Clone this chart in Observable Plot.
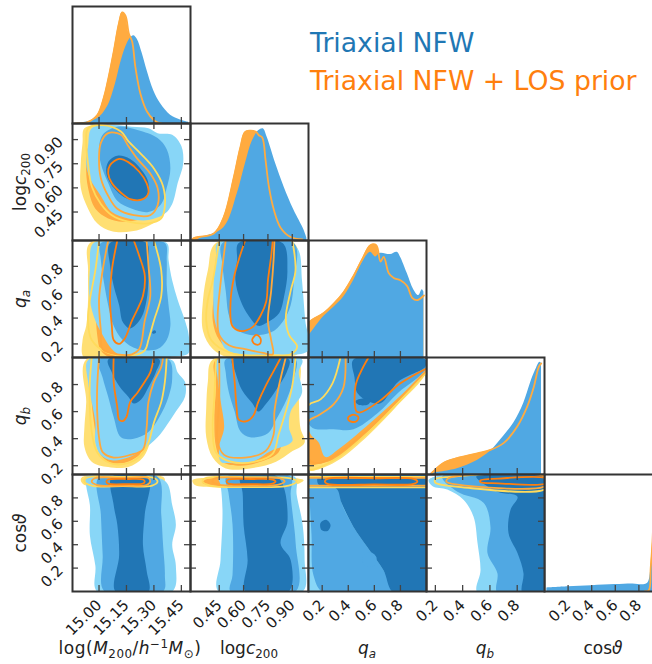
<!DOCTYPE html>
<html><head><meta charset="utf-8">
<script src="https://cdn.jsdelivr.net/npm/d3@7"></script>
<script src="https://cdn.jsdelivr.net/npm/@observablehq/plot@0.6"></script>
<style>
html,body{margin:0;padding:0;background:#fff;}
#fig{position:relative;width:652px;height:664px;overflow:hidden;font-family:"DejaVu Sans",sans-serif;color:#222;}
.cell{position:absolute;width:118px;height:117px;}
.cell svg{overflow:visible;background:transparent;}
.ttl{position:absolute;font-size:17px;white-space:nowrap;line-height:1.164;}
.ttl sub{font-size:70%;vertical-align:-0.3em;line-height:0;}
.ttl sup{font-size:70%;vertical-align:0.5em;line-height:0;}
.bt{width:240px;text-align:center;}
.lt{transform:translate(-50%,-50%) rotate(-90deg);}
.wide{letter-spacing:0.5px;}
.leg{position:absolute;font-size:26.7px;white-space:nowrap;line-height:1.164;}
</style></head><body><div id="fig"></div>
<script>
// ---------- axes: tick values and tick labels ----------
const logMTicks = [15.00, 15.15, 15.30, 15.45];
const logMLabels = ["15.00", "15.15", "15.30", "15.45"];
const logcTicks = [0.45, 0.60, 0.75, 0.90];
const logcLabels = ["0.45", "0.60", "0.75", "0.90"];
const qaTicks = [0.2, 0.4, 0.6, 0.8];
const qaLabels = ["0.2", "0.4", "0.6", "0.8"];
const qbTicks = [0.2, 0.4, 0.6, 0.8];
const qbLabels = ["0.2", "0.4", "0.6", "0.8"];
const cosTicks = [0.2, 0.4, 0.6, 0.8];
const cosLabels = ["0.2", "0.4", "0.6", "0.8"];
const logMDomain = [14.855, 15.5];
const logcDomain = [0.273, 1.0];
const qaDomain = [0.095, 1.0];
const qbDomain = [0.135, 1.0];
const cosDomain = [0, 1];

const legendNames = ["Triaxial NFW", "Triaxial NFW + LOS prior"];

// ---------- 1D marginals [value, density] ----------
const H0_blue = [[14.88,0],[14.99,0.04],[15.045,0.14],[15.09,0.34],[15.117,0.51],[15.145,0.65],[15.172,0.73],[15.19,0.75],[15.209,0.72],[15.236,0.60],[15.263,0.45],[15.299,0.28],[15.336,0.17],[15.391,0.07],[15.445,0.03],[15.49,0.01]];
const H0_orange = [[14.87,0],[14.935,0.01],[14.99,0.07],[15.026,0.22],[15.053,0.40],[15.081,0.62],[15.108,0.85],[15.127,0.95],[15.145,0.92],[15.163,0.77],[15.181,0.70],[15.199,0.48],[15.227,0.25],[15.263,0.10],[15.299,0.03],[15.318,0.01],[15.34,0]];
const H1_blue = [[0.31,0],[0.335,0.02],[0.478,0.11],[0.561,0.40],[0.612,0.66],[0.654,0.85],[0.694,0.94],[0.721,0.955],[0.746,0.88],[0.797,0.66],[0.849,0.46],[0.91,0.26],[0.972,0.09],[0.99,0.02]];
const H1_orange = [[0.28,0],[0.292,0.02],[0.417,0.06],[0.478,0.2],[0.54,0.54],[0.581,0.80],[0.612,0.93],[0.674,0.93],[0.694,0.90],[0.715,0.88],[0.736,0.68],[0.756,0.46],[0.787,0.26],[0.828,0.11],[0.89,0.03],[0.962,0.01]];
const H2_blue = [[0.095,0.18],[0.212,0.35],[0.289,0.43],[0.366,0.52],[0.442,0.66],[0.507,0.81],[0.57,0.90],[0.609,0.86],[0.647,0.89],[0.724,0.88],[0.775,0.90],[0.80,0.86],[0.852,0.72],[0.902,0.58],[0.94,0.53],[0.967,0.58],[0.98,0.56]];
const H2_orange = [[0.095,0.28],[0.11,0.31],[0.212,0.38],[0.289,0.46],[0.366,0.56],[0.442,0.70],[0.507,0.84],[0.57,0.96],[0.615,0.96],[0.647,0.82],[0.672,0.86],[0.711,0.72],[0.749,0.68],[0.80,0.66],[0.852,0.61],[0.89,0.51],[0.929,0.49],[0.98,0.53]];
const H3_blue = [[0.164,0.01],[0.36,0.05],[0.507,0.12],[0.604,0.20],[0.702,0.33],[0.775,0.44],[0.848,0.61],[0.897,0.78],[0.934,0.89],[0.966,0.96],[0.978,0.95]];
const H3_orange = [[0.164,0.0],[0.189,0.03],[0.262,0.10],[0.36,0.14],[0.507,0.18],[0.604,0.21],[0.702,0.27],[0.80,0.41],[0.873,0.58],[0.922,0.75],[0.958,0.92],[0.976,0.95]];
const H4_blue = [[0.02,0.03],[0.2,0.04],[0.4,0.05],[0.6,0.06],[0.75,0.065],[0.85,0.06],[0.88,0.08],[0.90,0.18],[0.915,0.35],[0.93,0.6],[0.95,0.8],[0.97,0.7],[1.0,0.4]];
const H4_orange = [[0.85,0],[0.884,0.01],[0.90,0.2],[0.915,0.42],[0.93,0.8],[0.95,1.0],[0.97,0.9],[0.99,0.5],[1.0,0.3]];

// ---------- 2D contours [x, y] ----------
// A: logM vs logc
const A_lb = [[14.96,0.97],[15.07,0.99],[15.18,0.98],[15.27,0.97],[15.32,0.94],[15.40,0.93],[15.45,0.86],[15.46,0.75],[15.43,0.63],[15.40,0.50],[15.36,0.44],[15.27,0.40],[15.16,0.41],[15.07,0.45],[15.01,0.55],[14.95,0.66],[14.93,0.75],[14.94,0.86]];
const A_mb = [[15.02,0.93],[15.10,0.98],[15.21,0.96],[15.32,0.91],[15.37,0.84],[15.39,0.72],[15.37,0.60],[15.34,0.50],[15.27,0.45],[15.18,0.47],[15.10,0.52],[15.05,0.63],[15.01,0.75],[15.00,0.84]];
const A_db = [[15.05,0.76],[15.10,0.80],[15.17,0.78],[15.24,0.70],[15.27,0.63],[15.26,0.55],[15.21,0.52],[15.14,0.54],[15.08,0.60],[15.04,0.69]];
const A_yf = [[14.92,0.97],[15.02,0.99],[15.13,0.95],[15.24,0.84],[15.32,0.72],[15.36,0.57],[15.35,0.43],[15.28,0.37],[15.18,0.33],[15.07,0.33],[14.99,0.38],[14.94,0.47],[14.90,0.60],[14.90,0.75],[14.91,0.88]];
const A_of = [[14.95,0.88],[15.01,0.94],[15.10,0.91],[15.21,0.81],[15.29,0.69],[15.32,0.55],[15.30,0.45],[15.24,0.41],[15.13,0.39],[15.05,0.41],[14.98,0.47],[14.94,0.60],[14.93,0.75]];
const A_yl = [[14.94,0.97],[15.02,0.99],[15.12,0.95],[15.16,0.89],[15.23,0.81],[15.30,0.72],[15.35,0.61],[15.36,0.49],[15.34,0.41],[15.27,0.38],[15.16,0.39],[15.07,0.43],[15.01,0.50],[14.96,0.61],[14.94,0.75],[14.93,0.88]];
const A_ol = [[15.01,0.88],[15.05,0.94],[15.12,0.93],[15.16,0.86],[15.21,0.78],[15.28,0.69],[15.32,0.60],[15.32,0.49],[15.28,0.43],[15.19,0.43],[15.10,0.47],[15.05,0.55],[15.01,0.66],[15.00,0.78]];
const A_dl = [[15.06,0.74],[15.11,0.78],[15.16,0.76],[15.22,0.70],[15.26,0.63],[15.27,0.57],[15.24,0.53],[15.17,0.53],[15.12,0.57],[15.07,0.63],[15.05,0.69]];
// B: logM vs qa
const B_lb = [[14.97,0.98],[15.13,0.98],[15.37,0.98],[15.38,0.85],[15.40,0.69],[15.43,0.54],[15.47,0.38],[15.49,0.27],[15.49,0.13],[15.40,0.10],[15.24,0.10],[15.13,0.10],[15.07,0.16],[15.02,0.27],[14.98,0.38],[14.95,0.54],[14.95,0.77]];
const B_mb = [[15.01,0.98],[15.18,0.98],[15.36,0.98],[15.37,0.85],[15.37,0.65],[15.38,0.50],[15.39,0.34],[15.37,0.23],[15.32,0.16],[15.21,0.16],[15.13,0.23],[15.08,0.34],[15.05,0.50],[15.03,0.65],[15.01,0.85]];
const B_db = [[15.06,0.98],[15.26,0.98],[15.27,0.85],[15.27,0.69],[15.26,0.54],[15.23,0.40],[15.17,0.32],[15.13,0.37],[15.11,0.50],[15.08,0.65],[15.06,0.81]];
const B_dot = [[15.295,0.30],[15.305,0.305],[15.312,0.29],[15.30,0.278],[15.29,0.285]];
const B_yf = [[14.95,0.98],[15.35,0.98],[15.38,0.77],[15.39,0.54],[15.38,0.30],[15.36,0.15],[15.29,0.09],[14.92,0.09],[14.91,0.23],[14.93,0.34],[14.94,0.54],[14.94,0.77]];
const B_of = [[14.98,0.98],[15.35,0.98],[15.36,0.69],[15.36,0.38],[15.32,0.19],[15.24,0.09],[15.07,0.09],[15.01,0.15],[14.99,0.27],[14.98,0.46],[14.96,0.69]];
const B_yl = [[15.00,1.0],[14.98,0.77],[14.95,0.54],[14.94,0.38],[14.96,0.23],[15.05,0.13],[15.18,0.11],[15.25,0.15],[15.27,0.23],[15.30,0.38],[15.34,0.57],[15.34,0.77],[15.30,1.0]];
const B_ol = [[15.05,1.0],[15.02,0.77],[15.00,0.54],[15.01,0.30],[15.02,0.16],[15.10,0.12],[15.18,0.12],[15.22,0.16],[15.25,0.38],[15.28,0.57],[15.27,0.81],[15.26,1.0]];
const B_dl = [[15.10,1.0],[15.07,0.77],[15.06,0.54],[15.07,0.34],[15.08,0.23],[15.11,0.20],[15.14,0.24],[15.18,0.38],[15.24,0.57],[15.25,0.73],[15.22,0.88],[15.19,1.0]];
// C: logM vs qb
const C_lb = [[14.94,0.98],[15.18,0.985],[15.40,0.98],[15.43,0.89],[15.47,0.82],[15.47,0.71],[15.42,0.60],[15.37,0.50],[15.32,0.41],[15.24,0.32],[15.16,0.26],[15.07,0.24],[15.01,0.28],[14.98,0.37],[14.98,0.52],[14.96,0.67],[14.94,0.82]];
const C_mb = [[15.00,0.985],[15.38,0.985],[15.40,0.85],[15.38,0.71],[15.33,0.56],[15.27,0.45],[15.19,0.40],[15.12,0.41],[15.08,0.56],[15.05,0.71],[15.02,0.85]];
const C_db = [[15.05,0.985],[15.33,0.985],[15.31,0.89],[15.27,0.78],[15.23,0.69],[15.19,0.66],[15.16,0.71],[15.11,0.79],[15.07,0.89]];
const C_yf = [[14.93,0.985],[15.38,0.985],[15.38,0.78],[15.34,0.60],[15.29,0.41],[15.24,0.26],[15.16,0.19],[15.05,0.19],[14.96,0.23],[14.92,0.34],[14.92,0.48],[14.93,0.67]];
const C_of = [[14.98,0.985],[15.36,0.985],[15.35,0.78],[15.31,0.60],[15.27,0.41],[15.22,0.28],[15.13,0.22],[15.05,0.23],[15.00,0.30],[14.98,0.45],[14.96,0.67],[14.96,0.85]];
const C_yl = [[14.96,1.0],[14.95,0.82],[14.95,0.63],[14.96,0.45],[14.99,0.30],[15.06,0.22],[15.16,0.22],[15.23,0.28],[15.27,0.37],[15.30,0.52],[15.34,0.67],[15.36,0.82],[15.37,1.0]];
const C_ol = [[15.00,1.0],[14.99,0.78],[14.99,0.60],[15.00,0.41],[15.02,0.30],[15.08,0.26],[15.17,0.28],[15.24,0.32],[15.26,0.48],[15.27,0.67],[15.30,0.82],[15.34,0.93],[15.35,1.0]];
const C_dl = [[15.08,1.0],[15.08,0.82],[15.10,0.63],[15.11,0.54],[15.13,0.53],[15.15,0.56],[15.17,0.67],[15.21,0.74],[15.25,0.82],[15.28,0.89],[15.30,1.0]];
// D: logM vs cos
const D_lb = [[14.93,0.98],[15.07,0.98],[15.29,0.98],[15.37,0.93],[15.40,0.74],[15.42,0.57],[15.40,0.40],[15.42,0.22],[15.40,0.0],[14.99,0.0],[14.98,0.22],[14.95,0.48],[14.95,0.74],[14.93,0.90]];
const D_mb = [[15.00,0.98],[15.32,0.98],[15.34,0.66],[15.35,0.40],[15.36,0.14],[15.35,0.0],[15.03,0.0],[15.02,0.31],[15.01,0.66]];
const D_db = [[15.07,0.98],[15.27,0.98],[15.25,0.66],[15.24,0.40],[15.26,0.18],[15.27,0.0],[15.09,0.0],[15.11,0.31],[15.10,0.57],[15.08,0.74]];
const D_yf = [[14.91,0.98],[15.13,0.99],[15.35,0.98],[15.36,0.95],[15.34,0.905],[15.18,0.90],[15.02,0.90],[14.92,0.91],[14.90,0.95]];
const D_of = [[14.94,0.97],[15.32,0.97],[15.33,0.94],[15.29,0.905],[14.96,0.905],[14.94,0.94]];
const D_yl = [[14.93,0.97],[15.13,0.98],[15.30,0.97],[15.32,0.94],[15.29,0.905],[15.13,0.90],[14.96,0.905],[14.92,0.94]];
const D_ol = [[14.98,0.97],[15.13,0.97],[15.27,0.97],[15.28,0.94],[15.26,0.91],[15.13,0.905],[14.99,0.91],[14.96,0.94]];
const D_dl = [[15.05,0.957],[15.16,0.961],[15.24,0.957],[15.25,0.94],[15.24,0.922],[15.16,0.918],[15.05,0.922],[15.04,0.94]];
// E: logc vs qa
const E_lb = [[0.44,0.98],[0.89,0.98],[0.94,0.92],[0.96,0.69],[0.98,0.38],[1.0,0.15],[0.77,0.12],[0.58,0.12],[0.49,0.16],[0.45,0.27],[0.42,0.40],[0.415,0.65],[0.43,0.88]];
const E_mb = [[0.47,0.98],[0.91,0.98],[0.91,0.69],[0.89,0.50],[0.84,0.37],[0.77,0.29],[0.64,0.27],[0.55,0.32],[0.51,0.42],[0.49,0.61],[0.47,0.81]];
const E_db = [[0.57,0.98],[0.84,0.98],[0.87,0.77],[0.85,0.57],[0.82,0.44],[0.75,0.37],[0.69,0.34],[0.63,0.42],[0.58,0.54],[0.55,0.69],[0.56,0.85]];
const E_yf = [[0.43,0.98],[0.91,0.98],[0.94,0.77],[0.91,0.54],[0.92,0.23],[0.94,0.13],[0.77,0.09],[0.52,0.09],[0.41,0.16],[0.35,0.30],[0.35,0.54],[0.38,0.77]];
const E_of = [[0.46,0.98],[0.79,0.98],[0.79,0.69],[0.78,0.38],[0.79,0.13],[0.64,0.12],[0.52,0.15],[0.45,0.23],[0.41,0.38],[0.43,0.69]];
const E_yl = [[0.45,1.0],[0.41,0.69],[0.38,0.54],[0.37,0.38],[0.40,0.23],[0.52,0.13],[0.705,0.11],[0.89,0.12],[0.93,0.18],[0.88,0.27],[0.86,0.40],[0.89,0.61],[0.92,0.77],[0.90,1.0]];
const E_ol = [[0.49,1.0],[0.46,0.69],[0.44,0.40],[0.45,0.27],[0.51,0.19],[0.61,0.16],[0.72,0.13],[0.78,0.12],[0.77,0.23],[0.75,0.38],[0.77,0.61],[0.785,0.85],[0.79,1.0]];
const E_dl = [[0.61,1.0],[0.57,0.85],[0.54,0.71],[0.52,0.53],[0.53,0.34],[0.58,0.30],[0.655,0.33],[0.705,0.42],[0.74,0.53],[0.75,0.69],[0.77,0.88],[0.78,1.0]];
const E_isl = [[0.655,0.24],[0.68,0.27],[0.705,0.24],[0.70,0.20],[0.674,0.196],[0.655,0.22]];
// F: logc vs qb
const F_lb = [[0.44,0.985],[0.96,0.985],[0.94,0.89],[0.96,0.74],[0.89,0.60],[0.88,0.48],[0.90,0.38],[0.77,0.31],[0.655,0.23],[0.52,0.22],[0.46,0.23],[0.45,0.34],[0.48,0.48],[0.46,0.67],[0.44,0.85]];
const F_mb = [[0.49,0.985],[0.92,0.985],[0.91,0.85],[0.865,0.69],[0.80,0.54],[0.75,0.44],[0.64,0.41],[0.58,0.455],[0.545,0.60],[0.51,0.74],[0.49,0.89]];
const F_db = [[0.53,0.985],[0.88,0.985],[0.865,0.89],[0.80,0.76],[0.74,0.66],[0.69,0.60],[0.655,0.66],[0.59,0.76],[0.55,0.89]];
const F_yf = [[0.41,0.985],[0.93,0.985],[0.94,0.71],[0.95,0.48],[0.976,0.37],[0.89,0.30],[0.80,0.23],[0.64,0.18],[0.49,0.18],[0.41,0.26],[0.37,0.41],[0.37,0.63],[0.38,0.82]];
const F_of = [[0.43,0.985],[0.89,0.985],[0.89,0.71],[0.85,0.48],[0.816,0.30],[0.705,0.23],[0.58,0.20],[0.47,0.23],[0.43,0.34],[0.42,0.56],[0.43,0.78]];
const F_yl = [[0.43,1.0],[0.42,0.71],[0.41,0.48],[0.43,0.30],[0.52,0.23],[0.67,0.23],[0.78,0.29],[0.816,0.43],[0.86,0.60],[0.90,0.79],[0.92,1.0]];
const F_ol = [[0.45,1.0],[0.45,0.68],[0.44,0.38],[0.48,0.28],[0.61,0.26],[0.736,0.31],[0.785,0.43],[0.79,0.60],[0.816,0.78],[0.86,1.0]];
const F_dl = [[0.53,1.0],[0.545,0.82],[0.557,0.63],[0.57,0.54],[0.62,0.53],[0.66,0.57],[0.69,0.67],[0.736,0.79],[0.79,0.91],[0.83,1.0]];
// G: logc vs cos
const G_lb = [[0.446,0.98],[0.915,0.98],[0.927,0.83],[0.964,0.57],[0.976,0.27],[0.964,0.0],[0.446,0.0],[0.458,0.27],[0.47,0.70],[0.458,0.91]];
const G_mb = [[0.495,0.98],[0.89,0.98],[0.89,0.83],[0.921,0.41],[0.921,0.0],[0.52,0.0],[0.532,0.14],[0.532,0.57],[0.507,0.845]];
const G_db = [[0.581,0.98],[0.81,0.98],[0.871,0.61],[0.828,0.41],[0.89,0.27],[0.878,0.0],[0.612,0.0],[0.625,0.27],[0.60,0.57],[0.594,0.845]];
const G_yf = [[0.285,0.95],[0.396,0.974],[0.643,0.983],[0.89,0.974],[0.97,0.95],[0.89,0.90],[0.643,0.88],[0.427,0.89],[0.30,0.91]];
const G_of = [[0.366,0.957],[0.643,0.974],[0.878,0.966],[0.915,0.94],[0.859,0.905],[0.643,0.897],[0.409,0.905],[0.347,0.93]];
const G_yl = [[0.36,0.966],[0.643,0.978],[0.89,0.966],[0.927,0.94],[0.878,0.905],[0.643,0.892],[0.396,0.905],[0.347,0.94]];
const G_ol = [[0.42,0.966],[0.643,0.97],[0.828,0.966],[0.853,0.94],[0.816,0.914],[0.643,0.905],[0.446,0.914],[0.409,0.94]];
const G_dl = [[0.507,0.957],[0.643,0.961],[0.779,0.957],[0.797,0.94],[0.779,0.922],[0.643,0.918],[0.507,0.922],[0.495,0.94]];
// H: qa vs qb
const H_lb = [[0.103,0.985],[0.992,0.985],[0.992,0.897],[0.785,0.705],[0.54,0.492],[0.325,0.322],[0.225,0.264],[0.172,0.374],[0.103,0.448]];
const H_mb = [[0.103,0.985],[0.992,0.985],[0.992,0.912],[0.785,0.742],[0.624,0.588],[0.44,0.47],[0.287,0.47],[0.11,0.492]];
const H_db = [[0.44,0.985],[0.992,0.985],[0.992,0.934],[0.785,0.823],[0.647,0.661],[0.555,0.676],[0.471,0.735],[0.448,0.853]];
const H_dbp = [[0.455,0.676],[0.517,0.698],[0.57,0.69],[0.555,0.654],[0.478,0.65]];
const H_yf = [[0.103,0.985],[0.992,0.985],[0.992,0.882],[0.785,0.654],[0.555,0.426],[0.325,0.242],[0.156,0.168],[0.103,0.168]];
const H_of = [[0.103,0.985],[0.992,0.985],[0.992,0.897],[0.785,0.676],[0.555,0.455],[0.325,0.264],[0.172,0.212],[0.103,0.212]];
const H_yl = [[0.34,1.0],[0.279,0.809],[0.187,0.69],[0.095,0.647],[0.09,0.4],[0.095,0.175],[0.14,0.175],[0.325,0.264],[0.555,0.448],[0.785,0.669],[1.0,0.89]];
const H_ol = [[0.379,1.0],[0.363,0.779],[0.287,0.654],[0.172,0.573],[0.095,0.529],[0.09,0.4],[0.095,0.249],[0.172,0.219],[0.325,0.293],[0.555,0.47],[0.785,0.69],[1.0,0.904]];
const H_dl = [[0.555,1.0],[0.494,0.89],[0.455,0.786],[0.463,0.602],[0.494,0.595],[0.647,0.683],[0.80,0.809],[1.0,0.919]];
const H_isl = [[0.40,0.558],[0.44,0.577],[0.478,0.558],[0.463,0.529],[0.425,0.525],[0.40,0.54]];
// I: qa vs cos
const I_lb = [[0.09,0.983],[1.01,0.983],[1.01,-0.01],[0.09,-0.01]];
const I_mb = [[0.103,0.983],[0.325,0.897],[0.348,0.759],[0.44,0.552],[0.547,0.379],[0.67,0.181],[0.747,-0.01],[0.21,-0.01],[0.133,0.138],[0.118,0.483],[0.103,0.828]];
const I_db = [[0.172,0.983],[1.01,0.983],[1.01,-0.01],[0.747,-0.01],[0.67,0.181],[0.547,0.379],[0.44,0.552],[0.348,0.759],[0.31,0.879],[0.172,0.914]];
const I_mbh = [[0.517,0.31],[0.57,0.336],[0.616,0.293],[0.601,0.224],[0.54,0.216],[0.509,0.259]];
const I_dbb = [[0.187,0.586],[0.233,0.612],[0.264,0.569],[0.241,0.517],[0.195,0.526]];
const I_yf = [[0.09,0.983],[1.01,0.983],[1.01,0.888],[0.09,0.888]];
const I_of = [[0.09,0.975],[1.01,0.975],[1.01,0.90],[0.09,0.90]];
const I_yl = [[0.09,0.98],[1.01,0.98],[1.01,0.89],[0.09,0.89]];
const I_ol = [[0.09,0.972],[1.01,0.972],[1.01,0.905],[0.09,0.905]];
const I_dl = [[0.24,0.962],[0.6,0.968],[0.9,0.962],[0.93,0.94],[0.9,0.92],[0.6,0.915],[0.24,0.92],[0.22,0.94]];
// J: qb vs cos
const J_lb = [[0.15,0.95],[0.2,0.983],[1.01,0.983],[1.01,-0.01],[0.509,-0.01],[0.531,0.181],[0.509,0.414],[0.48,0.638],[0.406,0.784],[0.287,0.871],[0.18,0.90]];
const J_mb = [[0.25,0.983],[1.01,0.983],[1.01,-0.01],[0.655,-0.01],[0.655,0.155],[0.582,0.328],[0.604,0.552],[0.553,0.759],[0.362,0.853]];
const J_db = [[0.5,0.983],[1.01,0.983],[1.01,-0.01],[0.839,-0.01],[0.846,0.155],[0.802,0.328],[0.736,0.50],[0.751,0.698],[0.802,0.81],[0.655,0.853]];
const J_yf = [[0.16,0.96],[0.25,0.983],[1.01,0.983],[1.01,0.87],[0.3,0.88],[0.17,0.92]];
const J_of = [[0.25,0.975],[1.01,0.975],[1.01,0.895],[0.3,0.905],[0.22,0.94]];
const J_yl = [[0.2,0.96],[0.3,0.98],[1.01,0.98],[1.01,0.88],[0.4,0.89],[0.2,0.93]];
const J_ol = [[0.3,0.97],[1.01,0.975],[1.01,0.905],[0.35,0.915],[0.28,0.94]];
const J_dl = [[0.53,0.95],[0.66,0.965],[1.01,0.965],[1.01,0.925],[0.66,0.925],[0.53,0.935]];

// ---------- styles ----------
const COL = {lb:"#88d6f7", mb:"#50a8e3", db:"#2176b5", yf:"#ffdf73", of:"#ffab40", yl:"#ffdb5c", ol:"#ffa83c", dl:"#ff7f0e"};
const HBLUE = "#50a8e3", HORANGE = "#ffab40";
const W = 118, H = 117, TICK = 6;
const colX = [72, 190, 308, 426, 544];
const rowY = [6, 123, 240, 357, 474];

const dims = [
  {domain: logMDomain, ticks: logMTicks, labels: logMLabels},
  {domain: logcDomain, ticks: logcTicks, labels: logcLabels},
  {domain: qaDomain, ticks: qaTicks, labels: qaLabels},
  {domain: qbDomain, ticks: qbTicks, labels: qbLabels},
  {domain: cosDomain, ticks: cosTicks, labels: cosLabels}
];

const fig = document.getElementById("fig");
const px = d => d[0], py = d => d[1];

function layerMark([kind, d, mode]) {
  const isLine = kind.endsWith("l");
  if (!isLine) {
    return Plot.line(d, {x: px, y: py, fill: COL[kind], stroke: "none",
      curve: mode === "linear" ? "linear-closed" : "catmull-rom-closed", clip: true});
  }
  return Plot.line(d, {x: px, y: py, fill: "none", stroke: COL[kind], strokeWidth: 1.8,
    curve: mode === "open" ? "catmull-rom" : mode === "linear" ? "linear-closed" : "catmull-rom-closed", clip: true});
}

function tickLabels(dim) {
  const m = new Map(dim.ticks.map((t, i) => [t, dim.labels[i]]));
  return d => m.get(d);
}

function buildPanel(c, r, dataMarks, hist) {
  const xd = dims[c], yd = dims[r];
  const bottom = r === 4, left = c === 0 && !hist;
  const marks = [...dataMarks];
  const tk = {stroke: "#444", strokeWidth: 1.3};
  marks.push(Plot.tickX(xd.ticks, {x: d => d, insetTop: H - TICK, ...tk}));
  if (!hist) {
    marks.push(Plot.tickX(xd.ticks, {x: d => d, insetBottom: H - TICK, ...tk}));
    marks.push(Plot.tickY(yd.ticks, {y: d => d, insetRight: W - TICK, ...tk}));
    marks.push(Plot.tickY(yd.ticks, {y: d => d, insetLeft: W - TICK, ...tk}));
  }
  marks.push(Plot.frame({stroke: "#333", strokeWidth: 2}));
  if (bottom) marks.push(Plot.axisX(xd.ticks, {anchor: "bottom", tickSize: 0, tickPadding: 11, tickRotate: -45, tickFormat: tickLabels(xd), label: null}));
  if (left) marks.push(Plot.axisY(yd.ticks, {anchor: "left", tickSize: 0, tickPadding: 12, tickRotate: -45, tickFormat: tickLabels(yd), label: null}));
  const plot = Plot.plot({
    width: W, height: H, margin: 0,
    x: {domain: xd.domain, axis: bottom ? undefined : null},
    y: {domain: hist ? [0, 1] : yd.domain, axis: left ? undefined : null},
    style: {overflow: "visible", background: "transparent", fontSize: "15px", fontFamily: "DejaVu Sans", color: "#1a1a1a"},
    marks
  });
  const div = document.createElement("div");
  div.className = "cell";
  div.style.left = colX[c] + "px";
  div.style.top = rowY[r] + "px";
  div.appendChild(plot);
  fig.appendChild(div);
}

function histMarks(blue, orange) {
  return [
    Plot.areaY(orange, {x: px, y: py, fill: HORANGE, curve: "catmull-rom", clip: true}),
    Plot.areaY(blue, {x: px, y: py, fill: HBLUE, curve: "catmull-rom", clip: true}),
    Plot.lineY(orange, {x: px, y: py, stroke: HORANGE, strokeWidth: 1.8, curve: "catmull-rom", clip: true})
  ];
}

// diagonal
buildPanel(0, 0, histMarks(H0_blue, H0_orange), true);
buildPanel(1, 1, histMarks(H1_blue, H1_orange), true);
buildPanel(2, 2, histMarks(H2_blue, H2_orange), true);
buildPanel(3, 3, histMarks(H3_blue, H3_orange), true);
buildPanel(4, 4, histMarks(H4_blue, H4_orange), true);

// lower triangle
const panels = [
  {c:0, r:1, layers:[["yf",A_yf],["of",A_of],["lb",A_lb],["mb",A_mb],["db",A_db],["yl",A_yl],["ol",A_ol],["dl",A_dl]]},
  {c:0, r:2, layers:[["yf",B_yf],["of",B_of],["lb",B_lb],["mb",B_mb],["db",B_db],["db",B_dot],["yl",B_yl,"open"],["ol",B_ol,"open"],["dl",B_dl,"open"]]},
  {c:0, r:3, layers:[["yf",C_yf],["of",C_of],["lb",C_lb],["mb",C_mb],["db",C_db],["yl",C_yl,"open"],["ol",C_ol,"open"],["dl",C_dl,"open"]]},
  {c:0, r:4, layers:[["yf",D_yf],["of",D_of],["lb",D_lb],["mb",D_mb],["db",D_db],["yl",D_yl],["ol",D_ol],["dl",D_dl]]},
  {c:1, r:2, layers:[["yf",E_yf],["of",E_of],["lb",E_lb],["mb",E_mb],["db",E_db],["yl",E_yl,"open"],["ol",E_ol,"open"],["dl",E_dl,"open"],["dl",E_isl]]},
  {c:1, r:3, layers:[["yf",F_yf],["of",F_of],["lb",F_lb],["mb",F_mb],["db",F_db],["yl",F_yl,"open"],["ol",F_ol,"open"],["dl",F_dl,"open"]]},
  {c:1, r:4, layers:[["yf",G_yf],["of",G_of],["lb",G_lb],["mb",G_mb],["db",G_db],["yl",G_yl],["ol",G_ol],["dl",G_dl]]},
  {c:2, r:3, layers:[["yf",H_yf],["of",H_of],["lb",H_lb],["mb",H_mb],["db",H_db],["db",H_dbp],["yl",H_yl,"open"],["ol",H_ol,"open"],["dl",H_dl,"open"],["dl",H_isl]]},
  {c:2, r:4, layers:[["yf",I_yf,"linear"],["of",I_of,"linear"],["lb",I_lb,"linear"],["mb",I_mb],["db",I_db],["mb",I_mbh],["db",I_dbb],["yl",I_yl,"linear"],["ol",I_ol,"linear"],["dl",I_dl]]},
  {c:3, r:4, layers:[["yf",J_yf],["of",J_of],["lb",J_lb],["mb",J_mb],["db",J_db],["yl",J_yl],["ol",J_ol],["dl",J_dl]]}
];
for (const p of panels) buildPanel(p.c, p.r, p.layers.map(layerMark), false);

// axis titles
const bottomTitles = [
  "log(<i>M</i><sub>200</sub>/<i>h</i><sup>−1</sup><i>M</i><sub>⊙</sub>)",
  "log<i>c</i><sub>200</sub>",
  "<i>q<sub>a</sub></i>",
  "<i>q<sub>b</sub></i>",
  "cos<i>ϑ</i>"
];
const bottomShift = [-1, 0, 0, 0, 0];
const leftTitles = [null, "log<i>c</i><sub>200</sub>", "<i>q<sub>a</sub></i>", "<i>q<sub>b</sub></i>", "cos<i>ϑ</i>"];
bottomTitles.forEach((t, i) => {
  const d = document.createElement("div");
  d.className = "ttl bt" + (i === 0 ? " wide" : "");
  d.innerHTML = t;
  d.style.left = (colX[i] + W / 2 - 120 + bottomShift[i]) + "px";
  d.style.top = (655 - 0.928 * 17) + "px";
  fig.appendChild(d);
});
leftTitles.forEach((t, i) => {
  if (!t) return;
  const d = document.createElement("div");
  d.className = "ttl lt";
  d.innerHTML = t;
  d.style.left = "21px";
  d.style.top = (rowY[i] + H / 2) + "px";
  fig.appendChild(d);
});

// legend
const legColors = ["#1f77b4", "#ff7f0e"];
const legBase = [51.5, 90];
legendNames.forEach((n, i) => {
  const d = document.createElement("div");
  d.className = "leg";
  d.textContent = n;
  d.style.color = legColors[i];
  d.style.left = "310px";
  d.style.top = (legBase[i] - 0.928 * 26.7) + "px";
  fig.appendChild(d);
});
</script></body></html>
